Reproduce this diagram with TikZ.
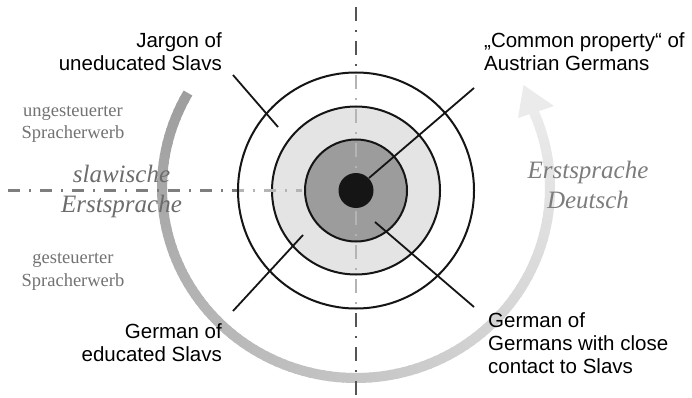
\documentclass[tikz,border=0pt]{standalone}
\usepackage{fontspec}
\setmainfont{Liberation Serif}
\newfontfamily\arialfont{Liberation Sans}
\usetikzlibrary{calc}
\definecolor{axisdark}{HTML}{555555}
\definecolor{axismid}{HTML}{7E7E7E}
\definecolor{axislight}{HTML}{B4B4B4}
\definecolor{ringlight}{HTML}{E4E4E4}
\definecolor{ringdark}{HTML}{9C9C9C}
\definecolor{inkblack}{HTML}{151515}
\definecolor{serifgray}{HTML}{727272}
\definecolor{italgray}{HTML}{6C6C6C}
\definecolor{italgrayR}{HTML}{7C7C7C}
\definecolor{headgray}{HTML}{EBEBEB}
\tikzset{
  ring/.style={draw=inkblack, line width=2pt},
  leader/.style={draw=inkblack, line width=1.8pt},
  vaxis/.style={line width=2pt, dash pattern=on 14pt off 9pt on 2pt off 9pt},
  haxis/.style={line width=2.2pt, dash pattern=on 12pt off 9pt on 2pt off 9pt},
  sanslabel/.style={inner sep=0pt, font=\arialfont\fontsize{20.5}{23}\selectfont, text=black},
  seriflabel/.style={inner sep=0pt, align=center, font=\fontsize{18.5}{22.5}\selectfont, text=serifgray},
  itallabel/.style={inner sep=0pt, align=center, font=\itshape\fontsize{25}{30}\selectfont},
}
\begin{document}
\begin{tikzpicture}[x=1pt,y=-1pt]
\useasboundingbox (0,0) rectangle (692,398);
\coordinate (C) at (356,190.5);
\coordinate (B) at (356,188);
% gradient band arrow
\foreach \i in {0,...,116} {
  \pgfmathsetmacro{\a}{210-2*\i}
  \pgfmathsetmacro{\k}{38-30*\i/116}
  \draw[line width=10pt, color=black!\k] ($(B)+(\a:194 and 190)$) arc[start angle=\a, end angle=\a-2.6, x radius=194, y radius=190];
}
\fill[headgray] (523.5,85) -- (554,106) -- (518,118) -- cycle;
% axes (dark parts)
\coordinate (Vt) at (356,7);
\coordinate (Vb) at (356,398);
\coordinate (Hl) at (8,190.5);
\coordinate (Hr) at (302,190.5);
\draw[vaxis, axisdark] (Vt) -- (Vb);
\draw[haxis, axismid] (Hl) -- (Hr);
% rings
\filldraw[ring, fill=white] (C) circle (118);
\filldraw[ring, fill=ringlight] (C) circle (84);
\filldraw[ring, fill=ringdark] (C) circle (51);
\begin{scope}
  \clip (C) circle (117);
  \draw[vaxis, axislight] (Vt) -- (Vb);
  \draw[haxis, axislight] (Hl) -- (Hr);
\end{scope}
\fill[inkblack] (C) circle (17.5);
% leader lines
\coordinate (l1a) at (233,75);  \coordinate (l1b) at (278,127);
\coordinate (l2a) at (369,178); \coordinate (l2b) at (474,88);
\coordinate (l3a) at (303,235); \coordinate (l3b) at (233,311);
\coordinate (l4a) at (375,222); \coordinate (l4b) at (474,307);
\draw[leader] (l1a) -- (l1b);
\draw[leader] (l2a) -- (l2b);
\draw[leader] (l3a) -- (l3b);
\draw[leader] (l4a) -- (l4b);
% labels (base anchor = last line baseline)
\node[sanslabel, align=right, anchor=base east] (jargon) at (222,71) {Jargon of\\uneducated Slavs};
\node[sanslabel, align=left, anchor=base west] (common) at (484,71) {„Common property“ of\\Austrian Germans};
\node[sanslabel, align=right, anchor=base east] (educ) at (222,361) {German of\\educated Slavs};
\node[sanslabel, align=left, anchor=base west] (close) at (488,373) {German of\\Germans with close\\contact to Slavs};
\node[seriflabel, anchor=base] (unges) at (73,139) {ungesteuerter\\Spracherwerb};
\node[seriflabel, anchor=base] (ges) at (73,286) {gesteuerter\\Spracherwerb};
\node[itallabel, text=italgray, anchor=base] (slaw) at (121.5,212.7) {slawische\\Erstsprache};
\node[itallabel, text=italgrayR, anchor=base] (deut) at (588,208.3) {Erstsprache\\Deutsch};
\end{tikzpicture}
\end{document}
